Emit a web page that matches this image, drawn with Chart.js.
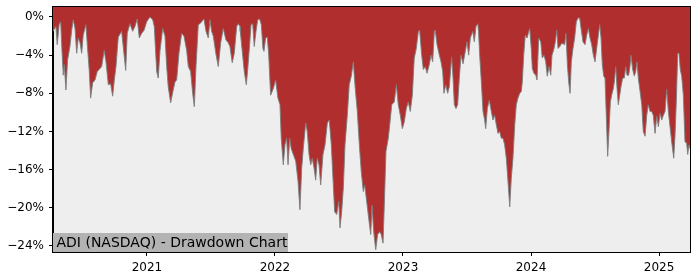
<!DOCTYPE html>
<html>
<head>
<meta charset="utf-8">
<title>ADI (NASDAQ) - Drawdown Chart</title>
<script src="https://cdn.jsdelivr.net/npm/chart.js@4/dist/chart.umd.min.js"></script>
<style>
    html, body { margin: 0; padding: 0; background: #ffffff; }
    #wrap { width: 700px; height: 280px; }
</style>
</head>
<body>
<div id="wrap"><canvas id="ddChart" width="700" height="280"></canvas></div>
<script>
// Data drawdown (tahun desimal, persen)
const dates = [
    2020.266, 2020.273, 2020.289, 2020.299, 2020.314, 2020.326, 2020.336, 2020.346, 2020.354, 2020.367,
    2020.380, 2020.398, 2020.412, 2020.424, 2020.438, 2020.451, 2020.463, 2020.477, 2020.490, 2020.502,
    2020.523, 2020.534, 2020.549, 2020.560, 2020.576, 2020.594, 2020.612, 2020.633, 2020.646, 2020.666,
    2020.680, 2020.698, 2020.716, 2020.732, 2020.745, 2020.758, 2020.776, 2020.802, 2020.820, 2020.834,
    2020.846, 2020.867, 2020.888, 2020.906, 2020.924, 2020.940, 2020.959, 2020.977, 2020.998, 2021.023,
    2021.045, 2021.057, 2021.076, 2021.088, 2021.102, 2021.123, 2021.141, 2021.154, 2021.166, 2021.185,
    2021.201, 2021.219, 2021.232, 2021.250, 2021.271, 2021.289, 2021.310, 2021.323, 2021.341, 2021.357,
    2021.370, 2021.383, 2021.401, 2021.414, 2021.427, 2021.445, 2021.461, 2021.479, 2021.492, 2021.505,
    2021.518, 2021.539, 2021.557, 2021.576, 2021.596, 2021.617, 2021.635, 2021.648, 2021.666, 2021.682,
    2021.701, 2021.713, 2021.727, 2021.729, 2021.742, 2021.760, 2021.776, 2021.787, 2021.802, 2021.813,
    2021.826, 2021.838, 2021.852, 2021.865, 2021.880, 2021.893, 2021.906, 2021.914, 2021.927, 2021.940,
    2021.951, 2021.966, 2021.987, 2022.005, 2022.023, 2022.039, 2022.049, 2022.065, 2022.078, 2022.091,
    2022.102, 2022.115, 2022.127, 2022.143, 2022.162, 2022.180, 2022.195, 2022.209, 2022.221, 2022.240,
    2022.252, 2022.266, 2022.279, 2022.291, 2022.305, 2022.318, 2022.330, 2022.344, 2022.357, 2022.375,
    2022.391, 2022.409, 2022.424, 2022.440, 2022.453, 2022.466, 2022.482, 2022.498, 2022.508, 2022.521,
    2022.534, 2022.547, 2022.565, 2022.580, 2022.596, 2022.612, 2022.627, 2022.643, 2022.659, 2022.674,
    2022.690, 2022.701, 2022.716, 2022.732, 2022.748, 2022.758, 2022.771, 2022.787, 2022.802, 2022.818,
    2022.830, 2022.844, 2022.854, 2022.867, 2022.885, 2022.898, 2022.912, 2022.932, 2022.948, 2022.963,
    2022.979, 2022.995, 2023.010, 2023.026, 2023.041, 2023.057, 2023.073, 2023.088, 2023.104, 2023.120,
    2023.130, 2023.146, 2023.159, 2023.174, 2023.188, 2023.205, 2023.219, 2023.232, 2023.245, 2023.252,
    2023.266, 2023.284, 2023.297, 2023.310, 2023.320, 2023.334, 2023.349, 2023.362, 2023.380, 2023.391,
    2023.401, 2023.414, 2023.427, 2023.440, 2023.453, 2023.469, 2023.484, 2023.500, 2023.513, 2023.526,
    2023.545, 2023.557, 2023.570, 2023.584, 2023.590, 2023.599, 2023.612, 2023.625, 2023.638, 2023.646,
    2023.659, 2023.674, 2023.690, 2023.703, 2023.716, 2023.729, 2023.742, 2023.755, 2023.768, 2023.781,
    2023.794, 2023.807, 2023.820, 2023.834, 2023.846, 2023.859, 2023.873, 2023.885, 2023.898, 2023.912,
    2023.924, 2023.932, 2023.943, 2023.955, 2023.969, 2023.979, 2023.990, 2024.002, 2024.010, 2024.023,
    2024.037, 2024.047, 2024.060, 2024.076, 2024.088, 2024.102, 2024.115, 2024.127, 2024.141, 2024.154,
    2024.164, 2024.180, 2024.190, 2024.201, 2024.211, 2024.225, 2024.237, 2024.250, 2024.263, 2024.273,
    2024.284, 2024.295, 2024.305, 2024.315, 2024.328, 2024.341, 2024.354, 2024.367, 2024.380, 2024.393,
    2024.406, 2024.422, 2024.435, 2024.448, 2024.461, 2024.474, 2024.487, 2024.500, 2024.513, 2024.526,
    2024.537, 2024.547, 2024.557, 2024.568, 2024.578, 2024.588, 2024.599, 2024.609, 2024.620, 2024.630,
    2024.643, 2024.651, 2024.662, 2024.672, 2024.682, 2024.693, 2024.703, 2024.716, 2024.729, 2024.740,
    2024.750, 2024.763, 2024.773, 2024.781, 2024.794, 2024.807, 2024.818, 2024.828, 2024.838, 2024.852,
    2024.865, 2024.877, 2024.891, 2024.904, 2024.916, 2024.930, 2024.943, 2024.955, 2024.969, 2024.982,
    2024.995, 2025.008, 2025.021, 2025.034, 2025.047, 2025.060, 2025.073, 2025.086, 2025.099, 2025.115,
    2025.125, 2025.135, 2025.146, 2025.156, 2025.166, 2025.177, 2025.190, 2025.203, 2025.216, 2025.224,
    2025.234, 2025.242
];

const drawdown = [
    -1.5, -1.5, -1.0, -2.9, -0.8, -0.5, -3.5, -6.1, -5.0, -7.65,
    -4.5, -3.1, -1.4, -0.3, -1.2, -3.8, -2.2, -2.7, -3.8, -1.9,
    -0.8, -2.9, -5.6, -8.5, -6.9, -6.6, -5.7, -5.4, -5.2, -3.5,
    -4.7, -7.1, -7.0, -8.3, -6.6, -5.2, -2.1, -1.5, -3.8, -5.6,
    -1.7, -0.7, -1.5, -1.0, -0.2, -2.2, -1.7, -1.4, -0.5, 0.0,
    -0.3, -1.0, -5.7, -6.4, -3.5, -1.2, -2.0, -5.2, -7.3, -9.0,
    -7.9, -6.8, -6.6, -3.8, -1.7, -2.0, -3.5, -5.2, -5.7, -8.0,
    -9.4, -5.2, -0.8, -0.7, -0.5, -0.2, -1.5, -2.2, -0.3, -1.5,
    -2.0, -3.9, -5.2, -2.7, -1.2, -2.4, -2.7, -3.1, -4.8, -3.8,
    -1.0, -0.7, -1.0, -1.5, -3.3, -5.7, -7.1, -5.5, -2.9, -0.8,
    -0.7, -3.1, -1.5, -0.3, -0.2, -0.8, -3.3, -3.6, -2.2, -2.1,
    -4.0, -8.2, -7.5, -6.6, -8.5, -9.2, -12.7, -15.5, -13.4, -12.7,
    -15.5, -12.7, -13.8, -14.4, -15.1, -17.2, -20.2, -15.8, -13.8, -11.1,
    -12.0, -14.4, -15.5, -14.8, -15.8, -17.1, -14.8, -15.5, -17.6, -14.4,
    -13.4, -11.1, -10.8, -13.4, -16.9, -20.4, -20.7, -19.3, -22.1, -20.4,
    -17.9, -13.4, -10.3, -7.1, -6.2, -4.7, -7.5, -9.9, -13.4, -16.2,
    -18.3, -17.6, -19.3, -21.1, -22.8, -19.7, -22.5, -24.4, -22.8, -22.5,
    -22.8, -23.7, -19.7, -14.1, -12.7, -11.1, -9.2, -8.9, -7.1, -9.2,
    -10.3, -11.7, -11.0, -9.6, -8.9, -9.9, -8.2, -4.3, -3.3, -1.5,
    -1.4, -4.0, -5.5, -5.2, -5.9, -5.0, -4.0, -4.7, -1.5, -1.4,
    -2.9, -4.0, -4.7, -5.7, -8.0, -7.1, -8.0, -7.3, -4.2, -6.4,
    -9.2, -9.6, -9.2, -6.4, -4.0, -4.9, -3.8, -2.6, -4.0, -2.2,
    -1.5, -2.6, -1.0, -0.7, -1.5, -4.0, -6.8, -9.9, -10.8, -11.7,
    -9.6, -8.7, -9.9, -10.8, -10.3, -11.3, -12.2, -12.0, -12.7, -12.7,
    -13.4, -14.8, -17.2, -19.9, -16.9, -14.8, -11.3, -9.2, -8.5, -8.0,
    -7.8, -6.8, -4.0, -1.9, -2.2, -1.7, -1.2, -3.3, -5.4, -5.9,
    -6.1, -6.6, -2.2, -2.6, -4.3, -4.0, -4.7, -6.2, -5.2, -6.1,
    -4.0, -3.3, -2.6, -1.4, -3.3, -3.1, -2.8, -2.8, -2.9, -1.7,
    -5.0, -6.9, -8.0, -4.7, -3.3, -2.2, -0.5, -0.1, -0.1, -1.4,
    -2.6, -2.9, -1.9, -1.2, -2.2, -2.9, -4.0, -4.7, -3.3, -1.9,
    -0.8, -2.2, -5.0, -6.2, -6.4, -10.3, -14.6, -12.0, -8.9, -8.2,
    -7.5, -6.8, -5.2, -7.5, -9.2, -8.2, -7.3, -6.4, -6.4, -5.2,
    -6.1, -6.1, -5.2, -4.0, -5.5, -6.2, -5.7, -4.7, -6.4, -7.8,
    -9.2, -12.0, -12.5, -10.3, -9.2, -9.9, -9.9, -10.3, -12.2, -10.4,
    -11.5, -10.1, -10.8, -10.3, -9.9, -7.6, -9.9, -11.5, -13.1, -14.8,
    -12.4, -8.9, -3.8, -3.8, -5.5, -6.2, -8.2, -13.1, -13.2, -14.4,
    -13.4, -13.8
];

const yTicks = [0, -4, -8, -12, -16, -20, -24];
const xTicks = [2021, 2022, 2023, 2024, 2025];
const judul = "ADI (NASDAQ) - Drawdown Chart";

// Latar abu-abu area plot + bingkai
const plotBg = {
    id: "plotBg",
    beforeDraw(chart) {
        const { ctx, chartArea: a } = chart;
        ctx.save();
        ctx.fillStyle = "#eeeeee";
        ctx.fillRect(a.left, a.top, a.right - a.left, a.bottom - a.top);
        ctx.restore();
    },
    afterDraw(chart) {
        const { ctx, chartArea: a } = chart;
        ctx.save();
        // kotak judul di pojok kiri bawah
        ctx.fillStyle = "#b3b3b3";
        ctx.fillRect(a.left, a.bottom - 19, 235, 19);
        ctx.fillStyle = "#000000";
        ctx.font = "14px 'DejaVu Sans'";
        ctx.textBaseline = "alphabetic";
        ctx.fillText(judul, a.left + 3.5, a.bottom - 4.7);
        ctx.strokeStyle = "#000000";
        ctx.lineWidth = 1;
        ctx.strokeRect(a.left - 0.5, a.top - 0.5, a.right - a.left + 1, a.bottom - a.top + 1);
        ctx.restore();
    },
};

document.addEventListener("DOMContentLoaded", function () {
    const el = document.getElementById("ddChart");
    if (!el) return;

    const points = dates.map((d, i) => ({ x: d, y: drawdown[i] }));

    new Chart(el.getContext("2d"), {
        type: "line",
        data: {
            datasets: [
                {
                    label: "Drawdown",
                    data: points,
                    borderColor: "rgba(125, 125, 125, 0.9)",
                    borderWidth: 1,
                    backgroundColor: "#b02e2e",
                    pointRadius: 0,
                    tension: 0,
                    fill: "end", // isi merah dari garis ke atas
                },
            ],
        },
        options: {
            responsive: false,
            animation: false,
            layout: { padding: { top: 7, right: 10, left: 0, bottom: 0 } },
            plugins: {
                legend: { display: false },
                tooltip: { enabled: false },
            },
            scales: {
                x: {
                    type: "linear",
                    min: 2020.266,
                    max: 2025.242,
                    afterBuildTicks: (s) => { s.ticks = xTicks.map((v) => ({ value: v })); },
                    afterFit: (s) => {
                        s.height = 28;
                        s.paddingLeft = 0;
                        s.paddingRight = 0;
                    },
                    ticks: {
                        color: "#000",
                        font: { family: "DejaVu Sans", size: 12 },
                        padding: 5,
                        maxRotation: 0,
                        callback: (v) => String(v),
                    },
                    grid: { drawOnChartArea: false, drawTicks: true, tickLength: 4, color: "#000" },
                    border: { display: true, color: "#000", width: 1 },
                },
                y: {
                    min: -24.63,
                    max: 1.048,
                    afterBuildTicks: (s) => { s.ticks = yTicks.map((v) => ({ value: v })); },
                    afterFit: (s) => {
                        s.width = 53;
                        s.paddingTop = 0;
                        s.paddingBottom = 0;
                    },
                    ticks: {
                        color: "#000",
                        font: { family: "DejaVu Sans", size: 12 },
                        padding: 5,
                        callback: (v) => (v < 0 ? "\u2212" + Math.abs(v) : v) + "%",
                    },
                    grid: { drawOnChartArea: false, drawTicks: true, tickLength: 4, color: "#000" },
                    border: { display: true, color: "#000", width: 1 },
                },
            },
        },
        plugins: [plotBg],
    });
});
</script>
</body>
</html>
